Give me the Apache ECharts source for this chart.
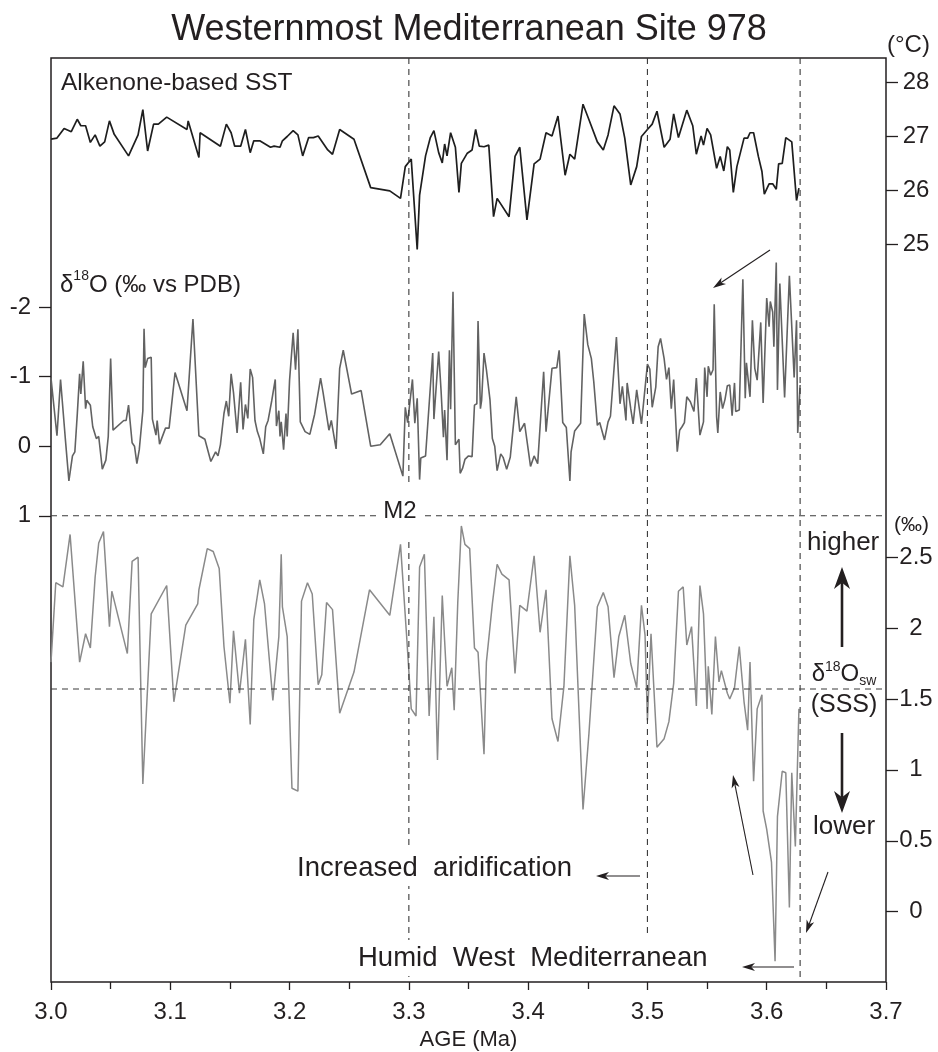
<!DOCTYPE html>
<html><head><meta charset="utf-8">
<script src="https://cdn.jsdelivr.net/npm/echarts@6/dist/echarts.min.js"></script>
<style>html,body{margin:0;padding:0;background:#fff}#c{width:938px;height:1052px}</style>
</head><body><div id="c"></div>
<script>
// ---------------- DATA ----------------
const sstAge=[3.000,3.005,3.011,3.017,3.022,3.025,3.029,3.033,3.037,3.041,3.045,3.049,3.053,3.065,3.073,3.077,3.081,3.086,3.090,3.097,3.114,3.115,3.124,3.125,3.142,3.147,3.151,3.154,3.159,3.163,3.167,3.170,3.175,3.184,3.187,3.192,3.194,3.198,3.203,3.207,3.211,3.216,3.220,3.224,3.232,3.236,3.242,3.254,3.268,3.284,3.293,3.297,3.302,3.307,3.309,3.314,3.318,3.321,3.325,3.328,3.330,3.332,3.335,3.339,3.342,3.344,3.349,3.353,3.356,3.359,3.363,3.367,3.371,3.374,3.384,3.389,3.393,3.399,3.405,3.410,3.415,3.420,3.425,3.431,3.435,3.439,3.446,3.451,3.458,3.463,3.467,3.472,3.477,3.481,3.486,3.491,3.495,3.500,3.504,3.508,3.514,3.519,3.522,3.526,3.533,3.538,3.541,3.545,3.547,3.550,3.553,3.558,3.561,3.564,3.567,3.569,3.572,3.575,3.581,3.584,3.586,3.589,3.593,3.596,3.598,3.602,3.605,3.608,3.610,3.613,3.616,3.621,3.625,3.627];
const sstVal=[26.95,26.97,27.15,27.09,27.32,27.20,27.20,26.89,27.03,26.82,26.90,27.29,27.04,26.64,27.03,27.50,26.73,27.23,27.23,27.36,27.13,27.29,26.61,27.07,26.82,27.23,27.07,26.82,26.82,27.13,26.70,26.92,26.92,26.80,26.82,26.80,26.92,27.00,27.11,27.03,26.64,26.98,26.98,27.01,26.75,26.67,27.13,26.95,26.05,25.99,25.85,26.44,26.58,24.90,25.91,26.64,26.98,27.11,26.70,26.51,26.86,26.64,27.07,26.80,25.96,26.50,26.69,26.75,27.13,26.82,26.81,26.84,25.51,25.85,25.51,26.63,26.80,25.45,26.49,26.58,27.07,27.01,27.38,26.28,26.67,26.58,27.60,27.31,26.90,26.75,27.03,27.57,27.42,26.97,26.10,26.44,27.00,27.13,27.23,27.47,26.80,26.95,27.42,26.98,27.49,27.20,26.67,27.01,26.84,27.15,27.03,26.41,26.63,26.36,26.81,26.75,25.96,26.44,26.97,26.97,27.07,27.07,26.63,26.35,25.93,26.12,26.12,26.02,26.49,26.50,26.98,26.90,25.81,26.04];

const d18oAge=[3.000,3.005,3.008,3.012,3.015,3.018,3.020,3.022,3.024,3.025,3.027,3.029,3.030,3.033,3.035,3.038,3.040,3.042,3.043,3.046,3.048,3.050,3.052,3.061,3.063,3.065,3.068,3.070,3.072,3.074,3.077,3.078,3.079,3.081,3.084,3.085,3.088,3.089,3.091,3.096,3.099,3.104,3.114,3.119,3.124,3.129,3.134,3.138,3.140,3.142,3.145,3.147,3.149,3.151,3.153,3.156,3.159,3.161,3.163,3.165,3.167,3.169,3.171,3.173,3.175,3.178,3.180,3.182,3.185,3.188,3.189,3.191,3.192,3.193,3.195,3.197,3.198,3.200,3.203,3.205,3.207,3.209,3.213,3.217,3.221,3.226,3.228,3.233,3.235,3.239,3.242,3.245,3.252,3.260,3.268,3.276,3.284,3.295,3.297,3.299,3.303,3.305,3.307,3.309,3.310,3.314,3.320,3.321,3.325,3.327,3.329,3.330,3.332,3.334,3.335,3.337,3.339,3.342,3.343,3.345,3.347,3.350,3.353,3.355,3.357,3.358,3.360,3.361,3.363,3.365,3.368,3.370,3.372,3.374,3.377,3.379,3.382,3.385,3.390,3.393,3.397,3.402,3.405,3.408,3.413,3.415,3.420,3.424,3.426,3.429,3.432,3.435,3.436,3.439,3.444,3.447,3.450,3.453,3.455,3.458,3.460,3.464,3.467,3.469,3.474,3.477,3.479,3.482,3.483,3.486,3.488,3.491,3.495,3.500,3.502,3.504,3.507,3.509,3.511,3.514,3.516,3.518,3.520,3.522,3.525,3.527,3.529,3.531,3.533,3.536,3.539,3.541,3.544,3.547,3.548,3.550,3.551,3.553,3.555,3.556,3.558,3.559,3.561,3.563,3.565,3.567,3.569,3.571,3.573,3.574,3.577,3.580,3.582,3.583,3.586,3.588,3.590,3.592,3.595,3.597,3.600,3.602,3.603,3.605,3.606,3.608,3.609,3.611,3.615,3.619,3.623,3.625,3.626,3.628];
const d18oVal=[-0.98,-0.15,-0.96,-0.11,0.50,0.14,0.08,-0.45,-1.04,-0.75,-1.22,-0.54,-0.66,-0.59,-0.28,-0.11,-0.14,0.17,0.33,0.20,-0.14,-1.26,-0.23,-0.37,-0.37,-0.59,-0.05,0.00,0.25,0.05,-0.51,-1.69,-1.13,-1.26,-1.28,-0.39,-0.16,-0.37,-0.03,-0.26,-0.26,-1.06,-0.51,-1.83,-0.15,-0.10,0.22,0.08,0.14,-0.02,-0.47,-0.65,-0.43,-1.04,-0.77,-0.19,-0.92,-0.24,-0.60,-0.40,-1.11,-0.99,-0.37,-0.21,-0.11,0.11,-0.28,-0.37,-0.65,-0.96,-0.29,-0.51,-0.14,-0.35,0.05,-0.47,-0.14,-0.95,-1.63,-1.10,-1.68,-0.35,-0.21,-0.17,-0.46,-0.98,-0.78,-0.23,-0.37,0.04,-1.12,-1.38,-0.75,-0.80,0.00,-0.02,-0.18,0.43,-0.56,-0.34,-0.96,-0.33,-0.69,0.48,0.17,0.14,-1.34,-0.39,-1.36,-0.80,-0.13,-0.52,0.20,-1.38,-0.53,-2.22,-0.02,-0.10,0.39,0.32,0.19,0.14,0.15,-0.59,-0.61,-1.80,-0.54,-0.66,-1.34,-1.10,-0.67,-0.11,0.00,0.35,0.11,0.16,0.33,0.16,-0.71,-0.21,-0.33,0.29,0.14,0.25,-1.07,-0.21,-1.12,-1.13,-1.38,-0.34,-0.27,0.50,0.08,-0.22,-0.33,-1.90,-1.46,-1.26,-0.93,-0.30,-0.34,-0.09,-0.35,-0.43,-1.57,-0.61,-0.86,-0.37,-0.91,-0.54,-0.32,-0.81,-0.32,-1.18,-1.11,-0.56,-0.85,-1.43,-1.55,-1.26,-0.96,-1.13,-0.54,-0.96,0.08,-0.23,-0.28,-0.34,-0.71,-0.64,-0.50,-0.98,-0.16,-0.35,-1.13,-0.71,-1.15,-1.02,-1.10,-2.04,-0.42,-0.19,-0.78,-0.54,-0.67,-0.87,-0.88,-0.44,-0.91,-0.50,-0.52,-2.40,-0.69,-1.20,-0.71,-1.81,-1.12,-0.95,-1.78,-0.62,-2.13,-1.72,-2.08,-1.93,-1.43,-2.64,-0.81,-2.34,-0.70,-2.45,-0.99,-1.81,-0.19,-0.88];

const swAge=[3.000,3.004,3.010,3.016,3.024,3.029,3.033,3.037,3.040,3.044,3.049,3.051,3.064,3.068,3.073,3.077,3.084,3.097,3.103,3.113,3.123,3.124,3.131,3.136,3.141,3.145,3.150,3.153,3.158,3.163,3.167,3.170,3.175,3.179,3.186,3.191,3.193,3.194,3.198,3.202,3.207,3.210,3.215,3.219,3.224,3.227,3.231,3.236,3.242,3.254,3.267,3.284,3.293,3.298,3.302,3.306,3.309,3.313,3.317,3.321,3.324,3.328,3.332,3.336,3.338,3.341,3.344,3.347,3.351,3.355,3.358,3.363,3.365,3.370,3.374,3.378,3.384,3.389,3.393,3.399,3.405,3.410,3.415,3.420,3.425,3.430,3.435,3.439,3.446,3.451,3.458,3.463,3.467,3.472,3.476,3.481,3.486,3.491,3.495,3.498,3.500,3.503,3.508,3.514,3.518,3.522,3.526,3.530,3.533,3.537,3.541,3.544,3.547,3.550,3.551,3.554,3.557,3.560,3.562,3.567,3.569,3.573,3.577,3.581,3.584,3.586,3.589,3.592,3.596,3.597,3.600,3.604,3.607,3.609,3.613,3.616,3.619,3.621,3.624,3.627];
const swVal=[1.76,2.32,2.29,2.66,1.76,1.96,1.86,2.36,2.60,2.68,2.01,2.26,1.82,2.47,2.50,0.90,2.10,2.30,1.48,2.02,2.17,2.27,2.56,2.54,2.42,1.87,1.47,1.98,1.54,1.92,1.32,2.06,2.34,2.17,1.49,1.94,2.52,2.15,1.94,0.87,0.85,2.19,2.32,2.24,1.60,1.67,2.18,2.13,1.40,1.69,2.27,2.09,2.59,1.96,1.43,1.38,2.43,2.52,1.38,2.08,1.07,2.23,1.59,1.72,1.42,2.18,2.72,2.59,2.56,1.86,1.83,1.11,1.76,2.17,2.45,2.38,2.34,1.68,2.16,2.12,2.51,1.97,2.27,1.36,1.20,1.59,2.51,2.16,0.72,1.26,2.15,2.25,2.15,1.65,1.94,2.09,1.75,1.58,2.16,1.95,1.35,1.96,1.16,1.22,1.34,1.61,2.26,2.29,1.88,2.01,1.45,2.30,2.10,1.43,1.73,1.39,1.94,1.62,1.70,1.54,1.50,1.58,1.87,1.48,1.28,1.76,0.92,1.43,1.53,0.71,0.58,0.35,-0.35,0.67,0.99,0.98,0.03,0.98,0.46,1.43];

const sstTicks=[25,26,27,28];
const d18oTicks=[-2,-1,0,1];
const swTicks=[0,0.5,1,1.5,2,2.5];
const markAges=[3.3,3.5,3.628];
const swRefLine=1.57;

// ---------------- CHART ----------------
const FONT='"Liberation Sans", Arial, Helvetica, sans-serif';
const C='#231f20';
const zip=(a,b)=>a.map((x,i)=>[x,b[i]]);
const chart=echarts.init(document.getElementById('c'),null,{renderer:'canvas'});

function yAx(pos,min,max,ticks,extra){
  return Object.assign({type:'value',position:pos,min:min,max:max,
    axisLine:{show:false,onZero:false},splitLine:{show:false},
    axisTick:{show:true,inside:false,length:12,customValues:ticks,lineStyle:{color:C,width:1.3}},
    axisLabel:{customValues:ticks,fontSize:24,color:C,fontFamily:FONT}},extra||{});
}

const option={
  animation:false,
  backgroundColor:'#fff',
  textStyle:{fontFamily:FONT},
  title:{text:'Westernmost Mediterranean Site 978',left:'center',top:12,padding:0,
    textStyle:{fontSize:36,fontWeight:'normal',color:C,fontFamily:FONT}},
  grid:{left:51,right:52,top:58,bottom:70,show:true,borderColor:C,borderWidth:1.5,backgroundColor:'transparent',
    containLabel:false,outerBoundsMode:'none'},
  xAxis:{type:'value',min:3.0,max:3.7,interval:0.1,position:'bottom',
    axisLine:{show:false,onZero:false},splitLine:{show:false},
    axisTick:{show:true,inside:false,length:8,lineStyle:{color:C,width:1.3}},
    minorTick:{show:true,splitNumber:2,length:7,lineStyle:{color:C,width:1.3}},
    axisLabel:{formatter:v=>v.toFixed(1),fontSize:24,color:C,margin:18,fontFamily:FONT},
    name:'AGE (Ma)',nameLocation:'middle',nameGap:45,
    nameTextStyle:{fontSize:22,color:C,fontFamily:FONT}},
  yAxis:[
    yAx('right',11.285,28.459,sstTicks,{axisLabel:{customValues:sstTicks,fontSize:24,color:C,margin:30,align:'center',fontFamily:FONT}}),
    yAx('left',-5.582,7.704,d18oTicks,{inverse:true,axisLabel:{customValues:d18oTicks,fontSize:24,color:C,margin:20,fontFamily:FONT}}),
    yAx('right',-0.496,6.020,swTicks,{axisLabel:{customValues:swTicks,fontSize:24,color:C,margin:30,align:'center',fontFamily:FONT}})
  ],
  series:[
    {name:'SST',type:'line',xAxisIndex:0,yAxisIndex:0,data:zip(sstAge,sstVal),symbol:'none',
      lineStyle:{color:'#1e1e1e',width:1.7},z:3},
    {name:'d18O',type:'line',xAxisIndex:0,yAxisIndex:1,data:zip(d18oAge,d18oVal),symbol:'none',
      lineStyle:{color:'#626262',width:1.6},z:3},
    {name:'d18Osw',type:'line',xAxisIndex:0,yAxisIndex:2,data:zip(swAge,swVal),symbol:'none',
      lineStyle:{color:'#8a8a8a',width:1.5},z:3}
  ]
};
chart.setOption(option);

// ---------------- ANNOTATIONS ----------------
const gTop=58, gBot=982, gLeft=51, gRight=886;
const px=v=>chart.convertToPixel({xAxisIndex:0},v);
const pyO=v=>chart.convertToPixel({yAxisIndex:1},v);
const pySw=v=>chart.convertToPixel({yAxisIndex:2},v);
const dash={stroke:'#3a3a3a',lineWidth:1.1,lineDash:[6,5]};
const els=[];
function line(x1,y1,x2,y2,style,z){els.push({type:'line',shape:{x1,y1,x2,y2},style:Object.assign({},style),z:z||5,silent:true});}
function text(t,x,y,size,opts){
  els.push({type:'text',z:(opts&&opts.z)||10,silent:true,style:Object.assign({text:t,x:x,y:y,fontSize:size,fontFamily:FONT,fill:C,
    align:'left',verticalAlign:'middle',textAlign:'left',textVerticalAlign:'middle'},opts&&opts.style||{})});
}
function arrow(x1,y1,x2,y2,lw,hl,hw){
  const dx=x2-x1,dy=y2-y1,L=Math.hypot(dx,dy),ux=dx/L,uy=dy/L,nx=-uy,ny=ux;
  const bx=x2-ux*hl,by=y2-uy*hl, ntx=x2-ux*hl*0.72, nty=y2-uy*hl*0.72;
  line(x1,y1,ntx,nty,{stroke:C,lineWidth:lw},8);
  els.push({type:'polygon',z:8,silent:true,shape:{points:[[x2,y2],[bx+nx*hw,by+ny*hw],[ntx,nty],[bx-nx*hw,by-ny*hw]]},style:{fill:C}});
}
// vertical dashed lines
line(px(markAges[0]),gTop,px(markAges[0]),gBot,dash);
line(px(markAges[1]),gTop,px(markAges[1]),937,dash);
line(px(markAges[2]),gTop,px(markAges[2]),gBot,dash);
// horizontal dashed lines
line(gLeft,pyO(1),gRight,pyO(1),dash);
line(gLeft,pySw(swRefLine),gRight,pySw(swRefLine),dash);

// texts
text('Alkenone-based SST',61,83,24.5);
els.push({type:'text',z:10,silent:true,style:{text:'{a|δ}{s|18}{a|O (‰ vs PDB)}',x:60,y:283,fontFamily:FONT,fill:C,
  align:'left',verticalAlign:'middle',textAlign:'left',textVerticalAlign:'middle',
  rich:{a:{fontSize:24,fontFamily:FONT,fill:C,color:C,lineHeight:28,verticalAlign:'bottom'},
        s:{fontSize:14,fontFamily:FONT,fill:C,color:C,lineHeight:28,verticalAlign:'top'}}}});
text('M2',400,511,24,{style:{align:'center',textAlign:'center',backgroundColor:'#fff',padding:[14,7]}});
text('(°C)',887,45,24);
text('(‰)',894,525,21);
text('higher',805,543,26,{style:{backgroundColor:'#fff',padding:[0,2]}});
text('lower',813,827,26);
els.push({type:'text',z:10,silent:true,style:{text:'{a|δ}{s|18}{a|O}{b|sw}',x:844,y:674,fontFamily:FONT,fill:C,
  align:'center',verticalAlign:'middle',textAlign:'center',textVerticalAlign:'middle',
  rich:{a:{fontSize:24,fontFamily:FONT,fill:C,color:C,lineHeight:28,verticalAlign:'middle'},
        s:{fontSize:14,fontFamily:FONT,fill:C,color:C,lineHeight:28,verticalAlign:'top'},
        b:{fontSize:14,fontFamily:FONT,fill:C,color:C,lineHeight:24,verticalAlign:'bottom'}}}});
text('(SSS)',844,705,25,{style:{align:'center',textAlign:'center'}});
text('Increased  aridification',297,868,27.5,{style:{backgroundColor:'#fff',padding:[4,0]}});
text('Humid  West  Mediterranean',358,958,27.5,{style:{backgroundColor:'#fff',padding:[4,0]}});

// arrows
arrow(770,250,713,288,1.1,13,4);
arrow(640,876,596,876,1.1,13,4);
arrow(794,967,742,967,1.1,13,4);
arrow(753,875,733,775,1.1,13,4);
arrow(828,872,806,933,1.1,13,4);
arrow(842,647,842,567,2.6,22,8);
arrow(842,733,842,813,2.6,22,8);

chart.setOption({graphic:{elements:els}});
</script>
</body></html>
